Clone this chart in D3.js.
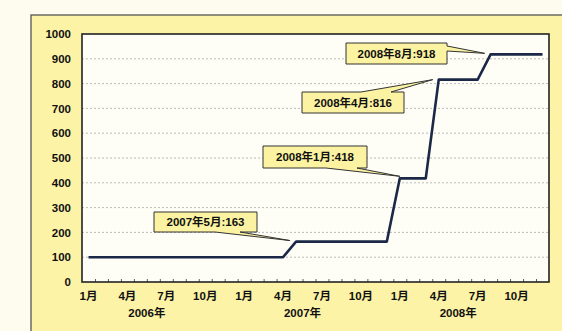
<!DOCTYPE html>
<html><head><meta charset="utf-8">
<script src="https://cdn.jsdelivr.net/npm/d3@7/dist/d3.min.js"></script>
<style>
html,body{margin:0;padding:0;background:#fdfcef;}
svg{display:block;}
</style></head>
<body>
<svg id="c" width="562" height="331"></svg>
<script>
// ---- data ----
const years = ["2006年", "2007年", "2008年"];
const monthNames = ["1月","2月","3月","4月","5月","6月","7月","8月","9月","10月","11月","12月"];
const values = [
  100,100,100,100,100,100,100,100,100,100,100,100,   // 2006
  100,100,100,100,163,163,163,163,163,163,163,163,   // 2007
  418,418,418,816,816,816,816,918,918,918,918,918    // 2008
];
const yTicks = [0,100,200,300,400,500,600,700,800,900,1000];
const labeledMonths = [0,3,6,9]; // 1月,4月,7月,10月
const annotations = [
  {label:"2007年5月:163", month:16, value:163},
  {label:"2008年1月:418", month:24, value:418},
  {label:"2008年4月:816", month:27, value:816},
  {label:"2008年8月:918", month:31, value:918}
];
// ---- layout (positions only) ----
const calloutLayout = [
  {x:154, y:212, w:103, h:20, side:"bottom", b1:61, b2:86, dx:-6, dy:-1},
  {x:263, y:146, w:104, h:22, side:"bottom", b1:63, b2:94, dx:0,  dy:-2},
  {x:302, y:92,  w:102, h:21, side:"top",    b1:59, b2:89, dx:-6, dy:0},
  {x:346, y:43,  w:101, h:21, side:"right",  b1:3,  b2:8,  dx:-6, dy:-1}
];

const svg = d3.select("#c");
const L = 82, R = 549, T = 34, B = 282;
const nMonths = values.length;
const idx = d3.range(nMonths);

const x = d3.scaleBand().domain(idx).range([L, R]);
const xl = d3.scaleLinear().domain([0, nMonths]).range([L, R]);
const y = d3.scaleLinear().domain([0, 1000]).range([B, T]);

// panel
svg.append("rect").attr("x",0).attr("y",0).attr("width",562).attr("height",331).attr("fill","#fdfcef");
svg.append("rect").attr("x",31).attr("y",15).attr("width",540).attr("height",330)
  .attr("fill","#fcf3a6").attr("stroke","#555").attr("stroke-width",1.3);

// plot area
svg.append("rect").attr("x",L).attr("y",T).attr("width",R-L).attr("height",B-T)
  .attr("fill","#fffef6");

// grid
svg.append("g").selectAll("line").data(yTicks.filter(v => v>0 && v<1000)).join("line")
  .attr("x1",L).attr("x2",R).attr("y1",d=>y(d)).attr("y2",d=>y(d))
  .attr("stroke","#a8a8a8").attr("stroke-width",0.8).attr("stroke-dasharray","2,2");

// y axis labels
const yAxis = d3.axisLeft(y).tickValues(yTicks).tickSize(0).tickPadding(11).tickFormat(d3.format("d"));
const gy = svg.append("g").attr("transform",`translate(${L},0)`).call(yAxis);
gy.select(".domain").remove();
gy.selectAll("text").attr("font-family","'Liberation Sans',Arial,sans-serif")
  .attr("font-weight","bold").attr("font-size","11.5px").attr("fill","#111");

// x minor ticks (month boundaries)
const xTickAxis = d3.axisBottom(xl).tickValues(d3.range(1, nMonths)).tickSize(-3).tickFormat("");
const gxt = svg.append("g").attr("transform",`translate(0,${B})`).call(xTickAxis);
gxt.select(".domain").remove();
gxt.selectAll("line").attr("stroke","#333").attr("stroke-width",0.8);

// x month labels
const xAxis = d3.axisBottom(x).tickValues(idx.filter(i => labeledMonths.includes(i % 12)))
  .tickSize(0).tickPadding(10).tickFormat(i => monthNames[i % 12]);
const gx = svg.append("g").attr("transform",`translate(0,${B})`).call(xAxis);
gx.select(".domain").remove();
gx.selectAll("text").attr("font-family","'Liberation Sans','Noto Sans CJK JP',sans-serif")
  .attr("font-weight","bold").attr("font-size","11.5px").attr("fill","#111");

// year labels (at the start of June of each year)
svg.append("g").selectAll("text").data(years).join("text")
  .attr("x",(d,i)=>x(i*12+5)).attr("y",317).attr("text-anchor","middle")
  .attr("font-family","'Liberation Sans','Noto Sans CJK JP',sans-serif")
  .attr("font-weight","bold").attr("font-size","11.5px").attr("fill","#111")
  .text(d=>d);

// line
const line = d3.line().x(i => x(i) + x.bandwidth()/2).y(i => y(values[i]));
svg.append("path").datum(idx).attr("d",line).attr("fill","none")
  .attr("stroke","#1b2847").attr("stroke-width",2.6).attr("stroke-linejoin","round");

// plot border
svg.append("rect").attr("x",L).attr("y",T).attr("width",R-L).attr("height",B-T)
  .attr("fill","none").attr("stroke","#222").attr("stroke-width",1.6);

// callouts
annotations.forEach((a,k) => {
  const c = calloutLayout[k];
  const tx = x(a.month) + x.bandwidth()/2 + c.dx;
  const ty = y(a.value) + c.dy;
  const l = c.x, t = c.y, r = c.x + c.w, b = c.y + c.h;
  let d;
  if (c.side === "bottom") {
    d = `M${l},${t}H${r}V${b}H${l+c.b2}L${tx},${ty}L${l+c.b1},${b}H${l}Z`;
  } else if (c.side === "top") {
    d = `M${l},${t}H${l+c.b1}L${tx},${ty}L${l+c.b2},${t}H${r}V${b}H${l}Z`;
  } else {
    d = `M${l},${t}H${r}V${t+c.b1}L${tx},${ty}L${r},${t+c.b2}V${b}H${l}Z`;
  }
  svg.append("path").attr("d",d).attr("fill","#fbf3a2").attr("stroke","#333").attr("stroke-width",1);
  svg.append("text").attr("x",(l+r)/2).attr("y",(t+b)/2).attr("dy","0.36em")
    .attr("text-anchor","middle")
    .attr("font-family","'Liberation Sans','Noto Sans CJK JP',sans-serif")
    .attr("font-weight","bold").attr("font-size","11.5px").attr("fill","#111")
    .text(a.label);
});
</script>
</body></html>
